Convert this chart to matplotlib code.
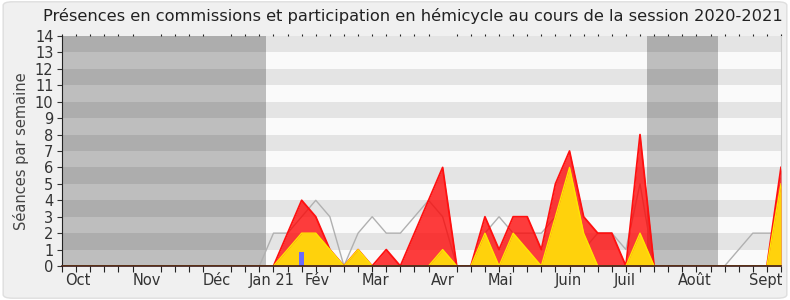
import numpy as np
import matplotlib
matplotlib.use('Agg')
import matplotlib.pyplot as plt
from matplotlib.patches import FancyBboxPatch

# Donnees (une valeur par semaine, 52 semaines)
semaines = np.arange(52)
total = [0]*15 + [0, 2, 4, 3, 1, 0, 1, 0, 1, 0, 2, 4, 6, 0, 0, 3, 1, 3, 3, 1,
                  5, 7, 3, 2, 2, 0, 8, 0] + [0]*8 + [6]
hemicycle = [0]*15 + [0, 1, 2, 2, 1, 0, 1, 0, 0, 0, 0, 0, 1, 0, 0, 2, 0, 2, 1, 0,
                      3, 6, 2, 0, 0, 0, 2, 0] + [0]*8 + [5]
mediane = [0]*15 + [2, 2, 3, 4, 3, 0, 2, 3, 2, 2, 3, 4, 3, 0, 0, 2, 3, 2, 2, 2,
                    3, 2, 1, 2, 2, 1, 5, 0] + [0, 0, 0, 0, 0, 1, 2, 2, 2]
questions = [0]*17 + [1] + [0]*34

mois = ['Oct', 'Nov', 'Déc', 'Jan 21', 'Fév', 'Mar', 'Avr', 'Mai', 'Juin',
        'Juil', 'Août', 'Sept']
mois_pos = [1.1, 6.0, 11.0, 14.9, 18.1, 22.2, 27.0, 31.1, 35.9, 39.9, 44.9, 49.9]
vacances = [(0, 14.5), (41.5, 46.5)]

# Figure
fig = plt.figure(figsize=(7.9, 3.0), dpi=100, facecolor='white')
fond = FancyBboxPatch((0.004, 0.006), 0.992, 0.988, boxstyle='round,pad=0,rounding_size=0.012',
                      transform=fig.transFigure, facecolor='#f0f0f0',
                      edgecolor='#dedede', linewidth=1, zorder=-10)
fig.patches.append(fond)

ax = fig.add_axes([0.0785, 0.1133, 0.9101, 0.7667])
ax.set_xlim(0, 51)
ax.set_ylim(0, 14)

# bandes horizontales
for y in range(14):
    couleur = '#e4e4e4' if y % 2 == 1 else '#fafafa'
    ax.axhspan(y, y+1, color=couleur, lw=0, zorder=0)
# vacances
for a, b in vacances:
    ax.axvspan(a, b, color='black', alpha=0.24, lw=0, zorder=1)

ax.plot(semaines, mediane, color='#b0b0b0', lw=1, zorder=2)
ax.fill_between(semaines, 0, total, color='#ff0000', alpha=0.76, lw=0, zorder=3)
ax.plot(semaines, total, color='#ff1010', lw=1.3, zorder=3)
ax.fill_between(semaines, 0, hemicycle, color='#ffd20c', lw=0, zorder=4)
ax.plot(semaines, hemicycle, color='#ffe600', lw=1, zorder=4)
ax.bar(semaines, np.array(questions)*0.87, width=0.38, color='#6b6bff', zorder=5)

# axes
ax.set_yticks(range(15))
ax.tick_params(axis='y', length=3.6, width=0.8, pad=2.5, labelsize=10.5,
               colors='#333333')
ax.set_xticks(mois_pos)
ax.set_xticklabels(mois)
ax.set_xticks(range(52), minor=True)
ax.tick_params(axis='x', which='major', length=0, pad=5, labelsize=10.5,
               colors='#333333')
ax.tick_params(axis='x', which='minor', length=4, width=0.8, color='#222222',
               top=True, bottom=True)
for t in ax.xaxis.get_minor_ticks():
    t.tick2line.set_markersize(1.2)
    t.tick2line.set_color('#555555')

ax.spines['top'].set_visible(False)
ax.spines['right'].set_color('#cccccc')
ax.spines['left'].set_color('#222222')
ax.spines['bottom'].set_color('#3a1a1a')
ax.spines['bottom'].set_linewidth(1.2)
ax.spines['bottom'].set_zorder(10)
ax.set_ylabel('Séances par semaine', fontsize=10.5, color='#444444', labelpad=4)

fig.suptitle('Présences en commissions et participation en hémicycle au cours de la session 2020-2021',
             fontsize=11.7, color='#222222', x=0.522, y=0.975)

plt.savefig('out.png', dpi=100, facecolor=fig.get_facecolor())
